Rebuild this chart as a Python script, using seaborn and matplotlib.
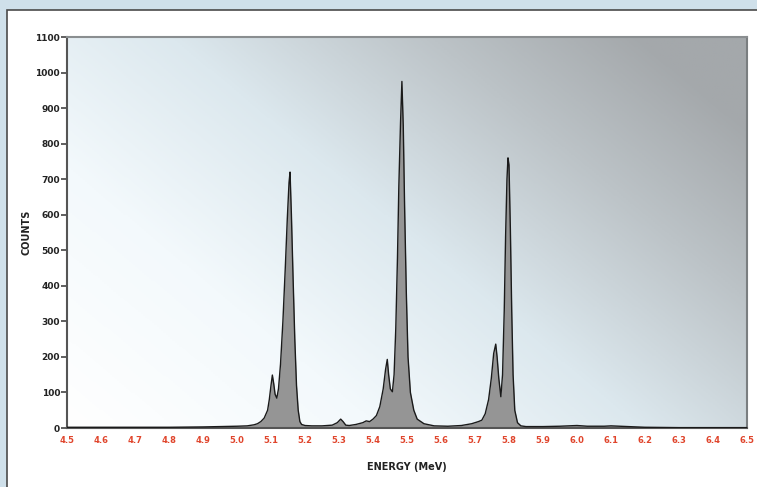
import numpy as np
import pandas as pd
import matplotlib
matplotlib.use("Agg")
import matplotlib.pyplot as plt
from matplotlib.colors import LinearSegmentedColormap
from matplotlib.patches import Rectangle
import seaborn as sns

# ---- data ----
energy_mev = [4.50, 4.60, 4.70, 4.80, 4.90, 4.95, 5.00, 5.03, 5.05, 5.06, 5.07, 5.08,
              5.09, 5.095, 5.100, 5.104, 5.108, 5.112, 5.117, 5.122, 5.128, 5.135,
              5.142, 5.148, 5.153, 5.156, 5.160, 5.165, 5.170, 5.175, 5.180, 5.185,
              5.19, 5.20, 5.22, 5.25, 5.28, 5.295, 5.305, 5.312, 5.32, 5.33, 5.35,
              5.37, 5.38, 5.39, 5.40, 5.41, 5.42, 5.43, 5.437, 5.442, 5.446, 5.451,
              5.457, 5.462, 5.467, 5.472, 5.476, 5.481, 5.485, 5.489, 5.493, 5.498,
              5.503, 5.51, 5.52, 5.53, 5.55, 5.58, 5.62, 5.66, 5.69, 5.71, 5.72,
              5.73, 5.74, 5.748, 5.755, 5.761, 5.765, 5.770, 5.776, 5.781, 5.786,
              5.790, 5.794, 5.797, 5.800, 5.804, 5.808, 5.812, 5.817, 5.825, 5.835,
              5.85, 5.90, 5.95, 6.00, 6.03, 6.08, 6.10, 6.15, 6.20, 6.30, 6.50]
counts = [2, 2, 2, 2, 3, 4, 5, 6, 9, 12, 18, 28,
          50, 80, 120, 149, 125, 95, 84, 110, 180, 300,
          450, 590, 690, 720, 600, 420, 250, 120, 50, 18,
          10, 7, 6, 6, 8, 15, 25, 18, 8, 7, 10,
          15, 20, 18, 25, 35, 60, 110, 165, 193, 150, 110,
          102, 150, 280, 480, 680, 860, 975, 850, 620, 380,
          200, 100, 50, 25, 12, 6, 5, 7, 12, 18, 22,
          40, 80, 140, 210, 236, 200, 140, 88, 150, 330,
          540, 700, 760, 740, 560, 330, 150, 50, 15, 6,
          4, 4, 5, 7, 5, 5, 6, 4, 2, 1, 1]

x_ticks = [round(4.5 + 0.1 * i, 1) for i in range(21)]
y_ticks = list(range(0, 1101, 100))

df = pd.DataFrame({"energy": energy_mev, "counts": counts})

# ---- figure ----
sns.set_style("ticks")
plt.rcParams["font.family"] = ["DejaVu Sans"]

fig = plt.figure(figsize=(7.57, 4.87), dpi=100)
fig.patch.set_facecolor("#cfe0ea")

# background layer: white panel with dark border
bg = fig.add_axes([0, 0, 1, 1], zorder=-5)
bg.set_xlim(0, 1)
bg.set_ylim(0, 1)
bg.axis("off")
bg.add_patch(Rectangle((7 / 757, -0.05), 1.1, 1 - 10 / 487 + 0.05,
                       facecolor="white", edgecolor="#4a4a4a", linewidth=1.2))

ax = fig.add_axes([67 / 757, 1 - 428 / 487, (747 - 67) / 757, (428 - 37) / 487],
                  zorder=1)
ax.set_facecolor("none")

# gradient background (white lower-left -> light blue -> grey upper-right)
cmap = LinearSegmentedColormap.from_list(
    "bg", [(0.0, "#ffffff"), (0.3, "#f3f9fc"), (0.55, "#dce8ee"),
           (0.8, "#bcc3c7"), (1.0, "#a4a8ab")])
gx, gy = np.meshgrid(np.linspace(0, 1, 300), np.linspace(0, 1, 200))
grad = np.clip(0.65 * gx + 0.45 * gy, 0, 1)
ax.imshow(grad, cmap=cmap, origin="lower", extent=[0, 1, 0, 1],
          transform=ax.transAxes, aspect="auto", zorder=0, vmin=0, vmax=1)

ax.fill_between(df["energy"], df["counts"], 0, color="#959595", zorder=2, linewidth=0)
sns.lineplot(data=df, x="energy", y="counts", ax=ax, color="#1a1a1a",
             linewidth=1.0, zorder=3)

ax.set_xlim(4.5, 6.5)
ax.set_ylim(0, 1100)
ax.set_xticks(x_ticks)
ax.set_xticklabels([f"{v:.1f}" for v in x_ticks], color="#e0452c",
                   fontsize=6, fontweight="bold")
ax.set_yticks(y_ticks)
ax.set_yticklabels([str(v) for v in y_ticks], fontsize=6.5, fontweight="bold",
                   color="#222222")
ax.tick_params(axis="x", length=0, pad=6)
ax.tick_params(axis="y", length=4, width=1.2, color="#444444", pad=1)

for side in ["left", "bottom", "top", "right"]:
    ax.spines[side].set_visible(True)
    ax.spines[side].set_linewidth(1.5)
ax.spines["left"].set_color("#555555")
ax.spines["bottom"].set_color("#555555")
ax.spines["top"].set_color("#8a8e90")
ax.spines["right"].set_color("#7a7e80")

ax.set_xlabel("ENERGY (MeV)", fontsize=7, fontweight="bold", color="#222222",
              labelpad=12)
ax.set_ylabel("COUNTS", fontsize=7, fontweight="bold", color="#222222",
              labelpad=3)

fig.savefig("out.png", dpi=100, facecolor=fig.get_facecolor())
